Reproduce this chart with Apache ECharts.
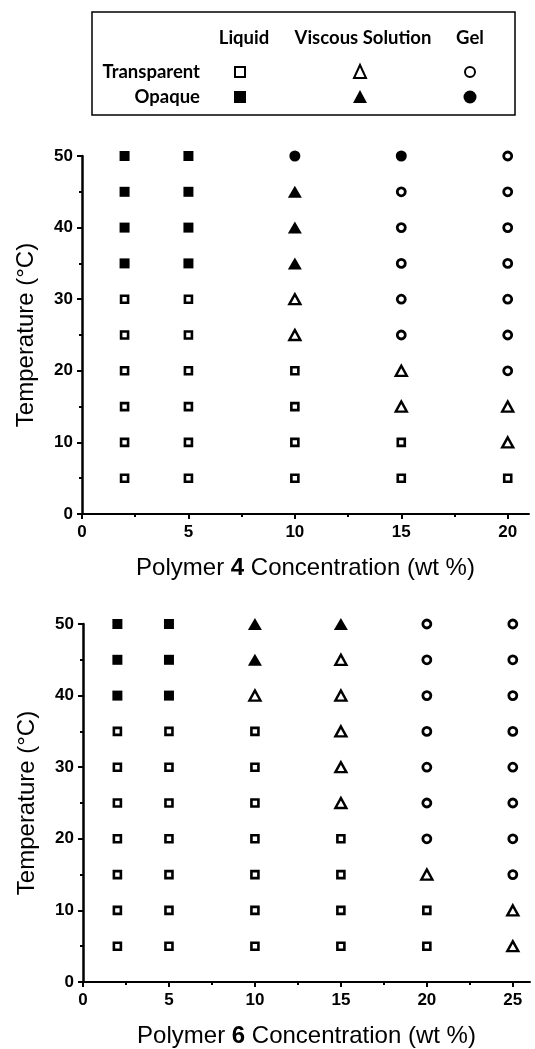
<!DOCTYPE html>
<html lang="en">
<head>
    <meta charset="UTF-8">
    <title>Phase diagram - Polymer 4 and 6</title>
    <script src="https://cdn.jsdelivr.net/npm/echarts@6/dist/echarts.min.js"></script>
    <style>
        body { margin: 0; background: #ffffff; }
        #chart { width: 535px; height: 1049px; }
    </style>
</head>
<body>
    <div id="chart"></div>
    <script>
        // temperatures sampled (°C), same for both polymers
        let temps = [5, 10, 15, 20, 25, 30, 35, 40, 45, 50];

        // phase codes: TL/OL = transparent/opaque liquid, TV/OV = viscous solution, TG/OG = gel
        // polymer 4, one row per concentration, values follow temps
        let p4Conc = [2, 5, 10, 15, 20];
        let p4Phase = [
            ['TL', 'TL', 'TL', 'TL', 'TL', 'TL', 'OL', 'OL', 'OL', 'OL'],
            ['TL', 'TL', 'TL', 'TL', 'TL', 'TL', 'OL', 'OL', 'OL', 'OL'],
            ['TL', 'TL', 'TL', 'TL', 'TV', 'TV', 'OV', 'OV', 'OV', 'OG'],
            ['TL', 'TL', 'TV', 'TV', 'TG', 'TG', 'TG', 'TG', 'TG', 'OG'],
            ['TL', 'TV', 'TV', 'TG', 'TG', 'TG', 'TG', 'TG', 'TG', 'TG']
        ];

        // polymer 6
        let p6Conc = [2, 5, 10, 15, 20, 25];
        let p6Phase = [
            ['TL', 'TL', 'TL', 'TL', 'TL', 'TL', 'TL', 'OL', 'OL', 'OL'],
            ['TL', 'TL', 'TL', 'TL', 'TL', 'TL', 'TL', 'OL', 'OL', 'OL'],
            ['TL', 'TL', 'TL', 'TL', 'TL', 'TL', 'TL', 'TV', 'OV', 'OV'],
            ['TL', 'TL', 'TL', 'TL', 'TV', 'TV', 'TV', 'TV', 'TV', 'OV'],
            ['TL', 'TL', 'TV', 'TG', 'TG', 'TG', 'TG', 'TG', 'TG', 'TG'],
            ['TV', 'TV', 'TG', 'TG', 'TG', 'TG', 'TG', 'TG', 'TG', 'TG']
        ];

        let p4Ticks = [0, 5, 10, 15, 20];
        let p6Ticks = [0, 5, 10, 15, 20, 25];

        // marker look for each phase code
        let markers = {
            TL: { symbol: 'rect', symbolSize: 7, itemStyle: { color: '#fff', borderColor: '#000', borderWidth: 2.6, opacity: 1 } },
            OL: { symbol: 'rect', symbolSize: 10, itemStyle: { color: '#000', opacity: 1 } },
            TV: { symbol: 'triangle', symbolSize: [11, 10], itemStyle: { color: '#fff', borderColor: '#000', borderWidth: 2.4, opacity: 1 } },
            OV: { symbol: 'triangle', symbolSize: [14, 12], itemStyle: { color: '#000', opacity: 1 } },
            TG: { symbol: 'circle', symbolSize: 8, itemStyle: { color: '#fff', borderColor: '#000', borderWidth: 2.8, opacity: 1 } },
            OG: { symbol: 'circle', symbolSize: 11, itemStyle: { color: '#000', opacity: 1 } }
        };

        function buildSeries(conc, phase, axisIdx) {
            let out = [];
            Object.keys(markers).forEach(code => {
                let pts = [];
                conc.forEach((c, i) => {
                    temps.forEach((t, j) => {
                        if (phase[i][j] === code) pts.push([c, t]);
                    });
                });
                if (!pts.length) return;
                out.push(Object.assign({
                    type: 'scatter',
                    name: code,
                    xAxisIndex: axisIdx,
                    yAxisIndex: axisIdx,
                    data: pts,
                    silent: true
                }, markers[code]));
            });
            return out;
        }

        let titleFont = { color: '#000', fontFamily: 'Arial', fontSize: 24 };

        function xAxisFor(idx, max, ticks, num) {
            return {
                type: 'value', gridIndex: idx, min: 0, max: max, interval: 5,
                name: '{n|Polymer }{b|' + num + '}{n| Concentration (wt %)}',
                nameLocation: 'middle', nameGap: 42,
                nameTextStyle: {
                    rich: {
                        n: titleFont,
                        b: Object.assign({}, titleFont, { fontWeight: 'bold' })
                    }
                },
                axisLine: { show: true, onZero: false, lineStyle: { color: '#000', width: 2 } },
                axisTick: { show: true, length: 5, lineStyle: { color: '#000', width: 2 }, customValues: ticks },
                minorTick: { show: true, splitNumber: 2, length: 3, lineStyle: { color: '#000', width: 2 } },
                axisLabel: { margin: 10, customValues: ticks, color: '#000', fontFamily: 'Arial', fontWeight: 'bold', fontSize: 17 },
                splitLine: { show: false }
            };
        }

        function yAxisFor(idx) {
            return {
                type: 'value', gridIndex: idx, min: 0, max: 50, interval: 10,
                name: 'Temperature (°C)',
                nameLocation: 'middle', nameGap: 44,
                nameTextStyle: titleFont,
                axisLine: { show: true, onZero: false, lineStyle: { color: '#000', width: 2.5 } },
                axisTick: { show: true, length: 5, lineStyle: { color: '#000', width: 2 } },
                minorTick: { show: true, splitNumber: 2, length: 3, lineStyle: { color: '#000', width: 2 } },
                axisLabel: { margin: 9, color: '#000', fontFamily: 'Arial', fontWeight: 'bold', fontSize: 17 },
                splitLine: { show: false }
            };
        }

        // legend key table
        let keyFont = { fill: '#000', fontFamily: 'Lato', fontWeight: 'bold', fontSize: 18.5 };
        function keyText(x, y, text, align) {
            return {
                type: 'text', x: x, y: y,
                style: Object.assign({ text: text, align: align || 'center', verticalAlign: 'middle' }, keyFont)
            };
        }

        let option = {
            backgroundColor: '#fff',
            animation: false,
            grid: [
                { left: 82, right: 6, top: 156, height: 358 },
                { left: 83, right: 5, top: 624, height: 358 }
            ],
            xAxis: [xAxisFor(0, 21, p4Ticks, '4'), xAxisFor(1, 26, p6Ticks, '6')],
            yAxis: [yAxisFor(0), yAxisFor(1)],
            graphic: [
                { type: 'rect', shape: { x: 92, y: 12, width: 423, height: 103 }, style: { fill: 'none', stroke: '#000', lineWidth: 1.5 } },
                keyText(244, 38, 'Liquid'),
                keyText(363, 38, 'Viscous Solution'),
                keyText(470, 38, 'Gel'),
                keyText(200, 72, 'Transparent', 'right'),
                keyText(200, 97, 'Opaque', 'right'),
                { type: 'rect', shape: { x: 235, y: 67, width: 10, height: 10 }, style: { fill: '#fff', stroke: '#000', lineWidth: 2 } },
                { type: 'rect', shape: { x: 234, y: 91, width: 12, height: 12 }, style: { fill: '#000' } },
                { type: 'polygon', shape: { points: [[360, 65], [366, 78], [354, 78]] }, style: { fill: '#fff', stroke: '#000', lineWidth: 2 } },
                { type: 'polygon', shape: { points: [[360, 90], [367, 103], [353, 103]] }, style: { fill: '#000' } },
                { type: 'circle', shape: { cx: 470, cy: 72, r: 5 }, style: { fill: '#fff', stroke: '#000', lineWidth: 2 } },
                { type: 'circle', shape: { cx: 470, cy: 97, r: 6.5 }, style: { fill: '#000' } }
            ],
            series: buildSeries(p4Conc, p4Phase, 0).concat(buildSeries(p6Conc, p6Phase, 1))
        };

        let chart = echarts.init(document.getElementById('chart'));
        chart.setOption(option);
    </script>
</body>
</html>
